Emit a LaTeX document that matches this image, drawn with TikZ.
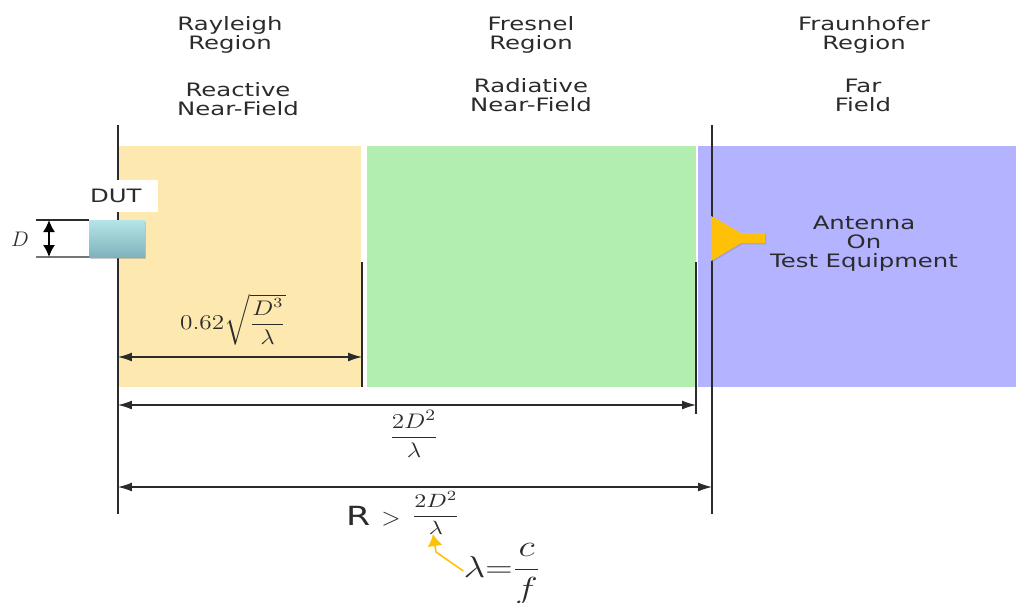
\documentclass[tikz,border=0pt]{standalone}
\usepackage{amsmath}
\usepackage{fontspec}
\setmainfont[FakeStretch=1.32]{DejaVu Sans}
\usetikzlibrary{arrows.meta,shadows}
\definecolor{ZoneYellow}{HTML}{FDE8AF}
\definecolor{ZoneGreen}{HTML}{B2EEB0}
\definecolor{ZoneBlue}{HTML}{B3B3FF}
\definecolor{LineInk}{HTML}{2B2B2B}
\definecolor{HornGold}{HTML}{FFC107}
\definecolor{BoxTop}{HTML}{B5E5E8}
\definecolor{BoxBottom}{HTML}{7FB3BC}

\begin{document}
\begin{tikzpicture}[
  x=0.02cm, y=-0.02cm,
  zone/.style={anchor=north west, inner sep=0pt, minimum height=241*0.02cm},
  caption/.style={align=center, text=LineInk, font=\fontsize{10.5}{10.8}\selectfont, inner sep=0pt},
  formula/.style={text=LineInk, inner sep=0pt},
  limit/.style={draw=LineInk, line width=0.75pt},
  span/.style={{Latex[length=2.8mm,width=1.8mm]}-{Latex[length=2.8mm,width=1.8mm]}, draw=LineInk, line width=0.7pt},
  sizebar/.style={{Latex[length=2.4mm,width=2.4mm]}-{Latex[length=2.4mm,width=2.4mm]}, draw=black, line width=0.9pt}
]
\useasboundingbox (0,0) rectangle (1016,602);
% coloured regions
\node[zone, fill=ZoneYellow, minimum width=243*0.02cm] (reactive) at (118,146) {};
\node[zone, fill=ZoneGreen, minimum width=329*0.02cm] (radiative) at (367,146) {};
\node[zone, fill=ZoneBlue, minimum width=318*0.02cm] (far) at (698,146) {};
% headings
\node[caption] (rayleigh) at (230,35) {Rayleigh\\Region};
\node[caption] (fresnel) at (531,35) {Fresnel\\Region};
\node[caption] (fraunhofer) at (864,35) {Fraunhofer\\Region};
\node[caption] (nearone) at (238,99) {Reactive\\Near-Field};
\node[caption] (neartwo) at (531,95) {Radiative\\Near-Field};
\node[caption] (farfield) at (863,95) {Far\\Field};
% boundary lines
\coordinate (a1) at (118,125);
\coordinate (a2) at (118,514);
\coordinate (b1) at (362,262);
\coordinate (b2) at (362,387);
\coordinate (c1) at (696,262);
\coordinate (c2) at (696,414);
\coordinate (d1) at (712,125);
\coordinate (d2) at (712,514);
\draw[limit] (a1) -- (a2);
\draw[limit] (b1) -- (b2);
\draw[limit] (c1) -- (c2);
\draw[limit] (d1) -- (d2);
% device under test
\node[fill=white, text width=66*0.02cm, minimum height=32*0.02cm, inner ysep=0pt, inner xsep=2*0.02cm,
      align=left, font=\fontsize{10.5}{12}\selectfont, text=LineInk] (dut) at (123,196) {DUT};
\coordinate (t1) at (36,220);
\coordinate (t2) at (36,257);
\node[draw=none, minimum width=56*0.02cm, minimum height=37*0.02cm, inner sep=0pt, outer sep=0pt,
      top color=BoxTop, bottom color=BoxBottom, drop shadow={shadow xshift=0.5pt, shadow yshift=-1pt, opacity=0.4}] (box) at (117,238.5) {};
\draw[draw=LineInk, line width=0.7pt] (t1) -- (box.north west);
\draw[draw=LineInk, line width=0.7pt] (t2) -- (box.south west);
\coordinate (s1) at (49,220);
\coordinate (s2) at (49,257);
\draw[sizebar] (s1) -- (s2);
\node[formula] (size) at (20,239) {\fontsize{13}{15}\selectfont $D$};
% horn antenna
\path[fill=HornGold, drop shadow={shadow xshift=0.6pt, shadow yshift=-0.8pt, opacity=0.35}]
  (711,216) -- (741,233) -- (765,233) -- (765,243) -- (741,243) -- (711,261) -- cycle;
\node[caption] (equipment) at (864,244) {\fontsize{10.5}{11.2}\selectfont Antenna\\On\\Test Equipment};
% dimensions
\coordinate (e1) at (118,357);
\coordinate (e2) at (362,357);
\coordinate (f1) at (118,405);
\coordinate (f2) at (696,405);
\coordinate (g1) at (118,487);
\coordinate (g2) at (712,487);
\draw[span] (e1) -- (e2);
\draw[span] (f1) -- (f2);
\draw[span] (g1) -- (g2);
\node[formula] (reach) at (233,320) {\fontsize{12}{14}\selectfont\scalebox{1.2}[1]{$0.62\sqrt{\dfrac{D^3}{\lambda}}$}};
\node[formula] (fresnelend) at (414,434) {\fontsize{12.5}{15}\selectfont\scalebox{1.2}[1]{$\dfrac{2D^2}{\lambda}$}};
\node[formula] (farstart) at (403,513) {\fontsize{15}{16}\selectfont\raisebox{-2.8pt}{R $>$} \fontsize{11}{13}\selectfont\scalebox{1.25}[1]{$\dfrac{2D^2}{\lambda}$}};
\node[formula] (wave) at (502,574) {\fontsize{16}{20}\selectfont\scalebox{1.25}[1]{$\lambda{=}\dfrac{c}{f}$}};
\draw[-{Latex[length=2.4mm,width=3mm]}, draw=HornGold, line width=0.9pt]
  (wave.west) ++(0,-3) -- (436,552) -- (433,534);
\end{tikzpicture}
\end{document}
